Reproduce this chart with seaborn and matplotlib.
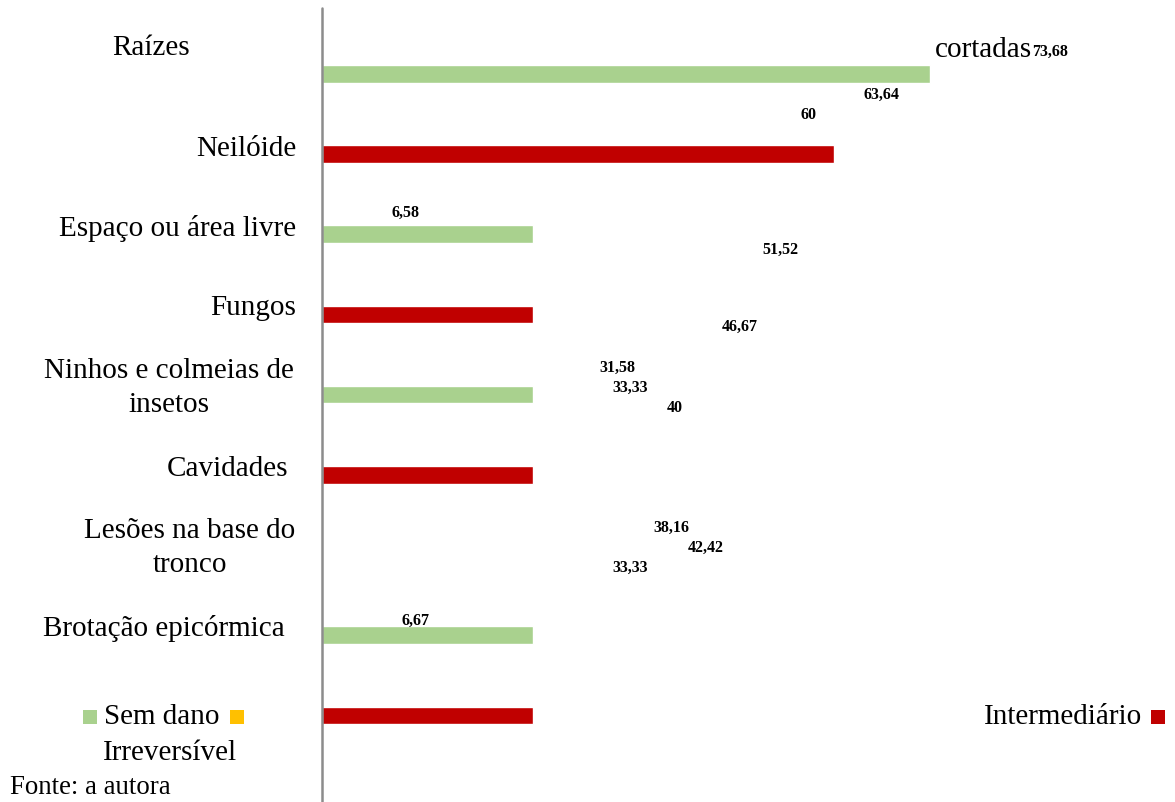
import matplotlib
matplotlib.use("Agg")
import matplotlib.pyplot as plt
import seaborn as sns
import pandas as pd
from matplotlib.patches import Rectangle

# ---- data ----
slots = ["s1", "s2", "s3", "s4", "s5", "s6", "s7", "s8", "s9"]
bar_slots = ["s1", "s2", "s3", "s4", "s5", "s6", "s8", "s9"]
bar_values = [73.68, 62.0, 25.6, 25.6, 25.6, 25.6, 25.6, 25.6]
bar_series = ["Sem dano", "Intermediário", "Sem dano", "Intermediário",
              "Sem dano", "Intermediário", "Sem dano", "Intermediário"]
categories = ["Raízes", "Neilóide", "Espaço ou área livre", "Fungos",
              "Ninhos e colmeias de\ninsetos", "Cavidades",
              "Lesões na base do\ntronco", "Brotação epicórmica"]
label_values = [6.58, 63.64, 60, 51.52, 46.67, 31.58, 33.33, 40,
                38.16, 42.42, 33.33, 6.67]
top_value = 73.68

colors = {"Sem dano": "#A9D18E", "Intermediário": "#C00000", "Irreversível": "#FFC000"}

df = pd.DataFrame({"slot": bar_slots, "valor": bar_values, "serie": bar_series})

sns.set_style("white")
plt.rcParams["font.family"] = ["Liberation Serif", "DejaVu Serif"]
plt.rcParams["text.color"] = "black"

W, H = 1175, 802
fig = plt.figure(figsize=(W / 100, H / 100), dpi=100)
px_per_unit = 8.25
ax = fig.add_axes([322 / W, 0, (W - 322) / W, 1])
sns.barplot(data=df, x="valor", y="slot", hue="serie", order=slots,
            palette=colors, orient="h", width=0.22, dodge=False,
            legend=False, ax=ax, saturation=1)
ax.set_xlim(0, (W - 322) / px_per_unit)
ax.set_ylim(9.08, -0.92)
for s in ax.spines.values():
    s.set_visible(False)
ax.set_xticks([])
ax.set_yticks([])
ax.set_xlabel("")
ax.set_ylabel("")
ax.axvline(0, ymin=0, ymax=1 - 8 / H, color="#8c8c8c", lw=1.8, clip_on=False)


def ftext(x, y, s, **kw):
    fig.text(x / W, 1 - y / H, s, **kw)


FS = 21
# category labels
cat_pos = [(151, 48, "center"), (296, 149, "right"), (296, 228, "right"),
           (296, 308, "right"), (169, 388, "center"), (228, 469, "center"),
           (190, 548, "center"), (164, 629, "center")]
for (x, y, ha), txt in zip(cat_pos, categories):
    ftext(x, y, txt, ha=ha, va="center", fontsize=FS, multialignment="center",
          linespacing=1.38)

# "cortadas" + top value
ftext(935, 50, "cortadas", ha="left", va="center", fontsize=FS)
ftext(1032, 52, f"{top_value:.2f}".replace(".", ","), ha="left", va="center",
      fontsize=11.5, fontweight="bold")

# scattered data labels
label_pos = [(406, 213), (881, 95), (809, 115), (780, 250), (740, 327),
             (617, 368), (630, 388), (675, 408), (671, 528), (706, 548),
             (630, 568), (416, 621)]
for (x, y), v in zip(label_pos, label_values):
    s = f"{v:.2f}" if v != int(v) else f"{int(v)}"
    ftext(x, y, s.replace(".", ","), ha="center", va="center",
          fontsize=11.5, fontweight="bold")


def square(x0, y0, c):
    fig.add_artist(Rectangle((x0 / W, 1 - (y0 + 14) / H), 14 / W, 14 / H,
                             transform=fig.transFigure, color=c, lw=0))


square(83, 710, colors["Sem dano"])
ftext(104, 717, "Sem dano", ha="left", va="center", fontsize=FS)
square(230, 710, colors["Irreversível"])
ftext(170, 753, "Irreversível", ha="center", va="center", fontsize=FS)
ftext(1142, 717, "Intermediário", ha="right", va="center", fontsize=FS)
square(1151, 710, colors["Intermediário"])

ftext(10, 788, "Fonte: a autora", ha="left", va="center", fontsize=FS * 0.92)

fig.savefig("out.png", dpi=100)
